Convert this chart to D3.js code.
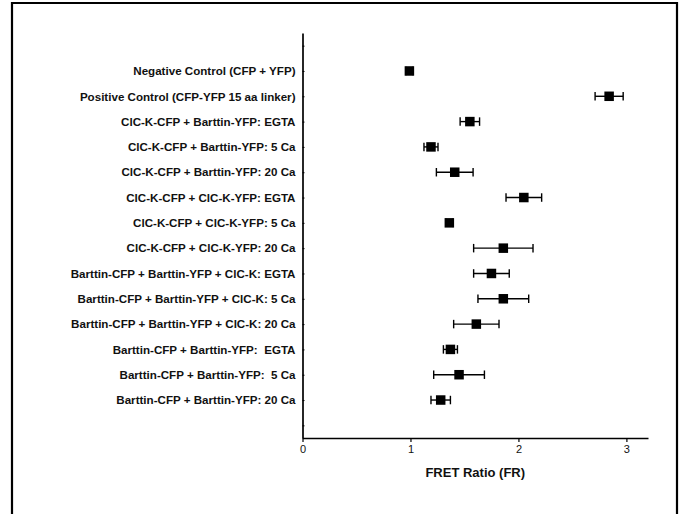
<!DOCTYPE html>
<html>
<head>
<meta charset="utf-8">
<script src="https://cdn.jsdelivr.net/npm/d3@7/dist/d3.min.js"></script>
<style>
  body { margin: 0; background: #fff; }
  svg { display: block; font-family: "Liberation Sans", Arial, sans-serif; }
</style>
</head>
<body>
<script>
'use strict';

var categories = [
    "Negative Control (CFP + YFP)",
    "Positive Control (CFP-YFP 15 aa linker)",
    "ClC-K-CFP + Barttin-YFP: EGTA",
    "ClC-K-CFP + Barttin-YFP: 5 Ca",
    "ClC-K-CFP + Barttin-YFP: 20 Ca",
    "ClC-K-CFP + ClC-K-YFP: EGTA",
    "ClC-K-CFP + ClC-K-YFP: 5 Ca",
    "ClC-K-CFP + ClC-K-YFP: 20 Ca",
    "Barttin-CFP + Barttin-YFP + ClC-K: EGTA",
    "Barttin-CFP + Barttin-YFP + ClC-K: 5 Ca",
    "Barttin-CFP + Barttin-YFP + ClC-K: 20 Ca",
    "Barttin-CFP + Barttin-YFP:  EGTA",
    "Barttin-CFP + Barttin-YFP:  5 Ca",
    "Barttin-CFP + Barttin-YFP: 20 Ca"
];
var fretMeans = [0.99, 2.84, 1.55, 1.19, 1.41, 2.05, 1.36, 1.86, 1.75, 1.86, 1.61, 1.37, 1.45, 1.28];
var fretErrors = [0.03, 0.13, 0.09, 0.065, 0.17, 0.165, 0.03, 0.275, 0.165, 0.235, 0.21, 0.065, 0.235, 0.09];
var xTicks = [0, 1, 2, 3];
var xTitle = "FRET Ratio (FR)";

var W = 683, H = 514;
var svg = d3.select("body").append("svg").attr("width", W).attr("height", H);

// outer frame (no bottom edge, it runs off the picture)
svg.append("path")
    .attr("d", "M12,520 L12,3 L677,3 L677,520")
    .attr("fill", "none").attr("stroke", "#000").attr("stroke-width", 2.2);

var plotLeft = 302.5, plotRight = 648, plotTop = 33, plotBottom = 438;

var xScale = d3.scaleLinear().domain([0, 3.2]).range([plotLeft, plotRight]);

// one empty slot above and below the rows
var slots = d3.range(categories.length + 2);
var yScale = d3.scalePoint().domain(slots).range([plotTop, plotBottom]).padding(0.5);

// x axis
var xAxis = svg.append("g")
    .attr("transform", "translate(0," + plotBottom + ")")
    .call(d3.axisBottom(xScale).tickValues(xTicks).tickSizeInner(4).tickSizeOuter(0).tickPadding(3).tickFormat(d3.format("d")));
xAxis.select(".domain").attr("stroke-width", 1.7);
xAxis.selectAll(".tick line").attr("stroke-width", 1.2);
xAxis.selectAll("text").attr("font-size", 11).attr("font-family", "Liberation Sans, Arial, sans-serif").attr("fill", "#111");

// y axis
var yAxis = svg.append("g")
    .attr("transform", "translate(" + plotLeft + ",0)")
    .call(d3.axisLeft(yScale).tickSizeInner(-2).tickSizeOuter(0).tickPadding(7)
        .tickFormat(function(i) { return categories[i - 1] || ""; }));
yAxis.select(".domain").attr("stroke-width", 1.7);
yAxis.selectAll(".tick line").attr("stroke-width", 1);
yAxis.selectAll("text")
    .attr("font-size", 11.6)
    .attr("font-weight", "bold")
    .attr("font-family", "Liberation Sans, Arial, sans-serif")
    .attr("fill", "#111")
    .style("white-space", "pre");

svg.append("text")
    .attr("x", (plotLeft + plotRight) / 2)
    .attr("y", 477)
    .attr("text-anchor", "middle")
    .attr("font-size", 13)
    .attr("font-weight", "bold")
    .attr("fill", "#111")
    .text(xTitle);

// points with horizontal error bars
var rows = categories.map(function(c, i) { return { idx: i + 1, m: fretMeans[i], e: fretErrors[i] }; });
var g = svg.append("g");
var capH = 8.5, sq = 9.5;

g.selectAll(".err").data(rows).enter().append("line")
    .attr("x1", function(d) { return xScale(d.m - d.e); })
    .attr("x2", function(d) { return xScale(d.m + d.e); })
    .attr("y1", function(d) { return yScale(d.idx); })
    .attr("y2", function(d) { return yScale(d.idx); })
    .attr("stroke", "#000").attr("stroke-width", 1.4);

[-1, 1].forEach(function(s) {
    g.selectAll(".cap" + s).data(rows).enter().append("line")
        .attr("x1", function(d) { return xScale(d.m + s * d.e); })
        .attr("x2", function(d) { return xScale(d.m + s * d.e); })
        .attr("y1", function(d) { return yScale(d.idx) - capH / 2; })
        .attr("y2", function(d) { return yScale(d.idx) + capH / 2; })
        .attr("stroke", "#000").attr("stroke-width", 1.4);
});

g.selectAll(".pt").data(rows).enter().append("rect")
    .attr("x", function(d) { return xScale(d.m) - sq / 2; })
    .attr("y", function(d) { return yScale(d.idx) - sq / 2; })
    .attr("width", sq).attr("height", sq)
    .attr("fill", "#000");
</script>
</body>
</html>
